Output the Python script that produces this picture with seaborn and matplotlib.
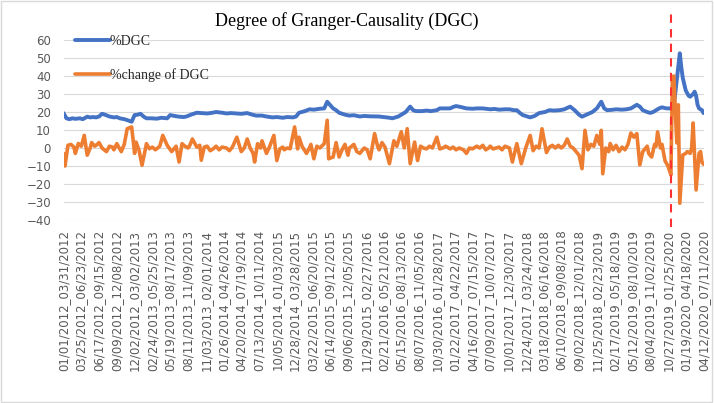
import numpy as np
import pandas as pd
import matplotlib
matplotlib.use("Agg")
import matplotlib.pyplot as plt
from matplotlib.patches import Rectangle
import seaborn as sns

# weekly rolling windows, index 0 = window starting 01/01/2012
dgc_weeks = [0, 1, 2, 4, 6, 8, 11, 13, 16, 18, 20, 22, 24, 26, 28, 31, 34, 36, 38, 41, 43, 46, 48, 50,
             52, 54, 56, 59, 63, 66, 70, 72, 75, 78, 81, 83, 86, 90, 93, 97, 100, 103, 107, 110, 113,
             117, 120, 124, 127, 130, 134, 137, 141, 144, 148, 151, 155, 157, 159, 163, 166, 169, 173,
             176, 178, 182, 184, 186, 190, 193, 196, 200, 203, 207, 213, 220, 222, 226, 229, 231, 234,
             236, 238, 242, 245, 248, 252, 254, 257, 261, 263, 265, 268, 272, 276, 279, 283, 288, 291,
             294, 298, 301, 304, 306, 308, 310, 313, 315, 318, 321, 325, 328, 331, 335, 338, 342, 345,
             348, 350, 353, 357, 360, 363, 365, 367, 370, 373, 377, 380, 383, 387, 389, 391, 394, 396,
             398, 400, 402, 404, 407, 410, 412, 414, 416, 417, 418, 420, 422, 423, 425, 426, 427, 428,
             429, 431, 432]
dgc_values = [19.4, 18, 16.5, 16, 16.5, 16.2, 16.5, 16, 17.4, 17, 17.2, 17, 17.5, 19, 18.5, 17.5, 17,
              17.2, 16.5, 16, 15.5, 14.6, 18.3, 18.5, 19, 17.5, 16.5, 16.5, 16.3, 16.8, 16.5, 18.3,
              17.8, 17.4, 17.2, 17.5, 18.5, 19.6, 19.4, 19.2, 19.5, 20, 19.6, 19.2, 19.4, 19.2, 19,
              19.4, 18.6, 18, 18, 17.5, 17, 17.2, 16.8, 17.2, 17, 17.5, 19.6, 20.5, 21.5, 21.3, 21.8,
              22, 25.7, 22, 21, 19.6, 18.5, 18, 18.2, 17.5, 17.8, 17.6, 17.5, 16.8, 16.5, 17.5, 19,
              20, 23, 21, 20.5, 20.5, 20.8, 20.5, 21, 22, 22, 22, 22.8, 23.3, 22.8, 22, 21.8, 22, 22,
              21.5, 21.7, 21.3, 21.5, 21.5, 21, 21, 19.5, 18.3, 17.5, 17, 17.8, 19.4, 20, 21, 20.8,
              21, 21.5, 23, 21, 18.5, 17.4, 18.5, 20, 22, 25.7, 22, 21, 21.2, 21.5, 21.3, 21.5, 22,
              24, 23, 21, 20, 19.5, 20, 21, 22, 22.6, 22, 22, 23.5, 38, 52.6, 45, 39, 32, 29, 28.5,
              30, 31.3, 29, 24, 22, 21, 19.4]

chg_weeks = [0, 1, 3, 5, 7, 8, 10, 12, 14, 16, 18, 19, 21, 22, 24, 26, 29, 31, 33, 34, 36, 39, 41, 43,
             46, 48, 49, 51, 53, 56, 58, 60, 62, 65, 67, 70, 73, 75, 76, 78, 80, 82, 84, 85, 87, 90,
             92, 93, 95, 97, 99, 101, 103, 105, 107, 110, 112, 114, 117, 120, 122, 124, 126, 128, 129,
             131, 133, 134, 137, 139, 142, 144, 146, 148, 149, 151, 153, 156, 158, 159, 161, 164, 166,
             167, 169, 171, 173, 176, 178, 179, 182, 184, 186, 188, 190, 192, 193, 196, 198, 200, 203,
             205, 207, 210, 212, 213, 215, 217, 220, 223, 225, 228, 230, 232, 234, 237, 239, 241, 243,
             245, 247, 249, 252, 254, 256, 258, 261, 263, 265, 267, 270, 272, 274, 276, 279, 281, 283,
             285, 287, 288, 290, 292, 294, 296, 298, 301, 303, 306, 309, 312, 315, 317, 319, 321, 323,
             326, 328, 330, 332, 334, 336, 338, 340, 342, 344, 346, 348, 350, 352, 354, 356, 358, 360,
             362, 363, 364, 366, 368, 369, 371, 373, 375, 377, 379, 381, 383, 385, 387, 388, 389, 391,
             394, 395, 397, 399, 400, 401, 403, 404, 406, 408, 410, 411, 412, 413, 414, 415, 416, 418,
             420, 421, 423, 424, 425, 427, 429, 430, 431, 432]
chg_values = [-3, -10, 1.5, 2, 0.5, -3, 2.5, 1, 7, -4, 0, 3, 1, 1.5, 3, 0, -2, 1, 0.5, -1, 2.4, -2, 2,
              10.7, 11.7, -3, 3.3, -1.3, -9.6, 2.4, -0.4, 0.5, -1, 1, 7, 1.5, -2, 0, 1, -7.8, 2.4, 1,
              0, 1, 5, 0.5, 1.5, -6.8, 0.5, 1, -1.5, -0.5, 1, -1, 0.5, 0, -1.5, 0.5, 6, -2, 0, 5, 0,
              -3, -7.8, 2.4, 0, 4, -3, 0.5, 7, -7, -0.5, 0.5, -1, 0, -0.4, 11.7, -0.5, 6, 1, -3, 0, 2,
              -6, 1, 0, 2.4, 15.4, -6, -5, 3, -5, -1, 2, -4, 0, 2, -2, -3, 0, -1, -6, 8, 1, -1, 3, 0.5,
              -8.7, 4, 1, 9, 0, 10.7, -8.7, 3.3, -7, 1, 0, -0.5, 1, 0, 6, -0.5, 0, 1, -0.5, 0.5, -1, 0,
              -1, -3, 0, -0.5, 1, 0, 1.5, -1, 0, 1, -0.5, 0, 0.5, -1, 1, 0, -7.8, 2.4, -8.7, 0, 7,
              -1.5, 1, 0, 10.7, -2.5, 0.5, 1.5, 0, 1.5, 0, 1.5, 5, 1, 0, -2, -4, -11.5, 9.8, -1, 2, 1,
              7, 2, 9.8, -14.3, 0, -2, 2.5, -1, 1.5, -2, 0.5, -1, 2, 8.3, 6, 8, -1, -9.4, -2, 1, -3,
              -5, 2, 1, 9, 0, 2, -7, -10, -15, 39.6, 40, 20, 2.8, 24, -30.7, -3.9, -3, -2, -3, 0, 13.9,
              -23.3, -3, -2, -8, -9]

tick_labels = [
    "01/01/2012_03/31/2012", "03/25/2012_06/23/2012", "06/17/2012_09/15/2012",
    "09/09/2012_12/08/2012", "12/02/2012_03/02/2013", "02/24/2013_05/25/2013",
    "05/19/2013_08/17/2013", "08/11/2013_11/09/2013", "11/03/2013_02/01/2014",
    "01/26/2014_04/26/2014", "04/20/2014_07/19/2014", "07/13/2014_10/11/2014",
    "10/05/2014_01/03/2015", "12/28/2014_03/28/2015", "03/22/2015_06/20/2015",
    "06/14/2015_09/12/2015", "09/06/2015_12/05/2015", "11/29/2015_02/27/2016",
    "02/21/2016_05/21/2016", "05/15/2016_08/13/2016", "08/07/2016_11/05/2016",
    "10/30/2016_01/28/2017", "01/22/2017_04/22/2017", "04/16/2017_07/15/2017",
    "07/09/2017_10/07/2017", "10/01/2017_12/30/2017", "12/24/2017_03/24/2018",
    "03/18/2018_06/16/2018", "06/10/2018_09/08/2018", "09/02/2018_12/01/2018",
    "11/25/2018_02/23/2019", "02/17/2019_05/18/2019", "05/12/2019_08/10/2019",
    "08/04/2019_11/02/2019", "10/27/2019_01/25/2020", "01/19/2020_04/18/2020",
    "04/12/2020_07/11/2020",
]
tick_weeks = list(range(0, 433, 12))
covid_week = 410

sns.set_theme(style="white")
plt.rcParams["font.family"] = ["DejaVu Sans"]

fig = plt.figure(figsize=(7.14, 4.03), dpi=100)
ax = fig.add_axes([63.5 / 714, 1 - 220 / 403, 640 / 714, 180 / 403])

dgc = pd.DataFrame({"week": dgc_weeks, "value": dgc_values})
chg = pd.DataFrame({"week": chg_weeks, "value": chg_values})
sns.lineplot(data=dgc, x="week", y="value", ax=ax, color="#4472C4", linewidth=2.8, label="%DGC")
sns.lineplot(data=chg, x="week", y="value", ax=ax, color="#ED7D31", linewidth=2.6, label="%change of DGC")

ax.plot([covid_week, covid_week], [-0.04, 1.155], transform=ax.get_xaxis_transform(),
        color="#FF3030", lw=1.5, ls=(0, (4, 3)), clip_on=False, zorder=5)

ax.set_ylim(-40, 60)
ax.set_xlim(0, 432)
ax.set_yticks(range(-40, 61, 10))
ax.set_xticks(tick_weeks)
ax.set_xticklabels(tick_labels, rotation=90)
ax.tick_params(axis="both", length=0, labelsize=8.5, labelcolor="#595959")
ax.tick_params(axis="y", pad=9)
ax.tick_params(axis="x", pad=7)
ax.yaxis.grid(True, color="#D9D9D9", lw=0.8)
ax.set_axisbelow(True)
for s in ax.spines.values():
    s.set_visible(False)
ax.set_xlabel("")
ax.set_ylabel("")

leg = ax.legend(loc="upper left", bbox_to_anchor=(0.018, 1.03), frameon=False, borderpad=0,
                borderaxespad=0, handlelength=2.5, handletextpad=0.0, labelspacing=1.45,
                prop={"family": "Liberation Serif", "size": 10})

fig.text(0.486, 1 - 21 / 403, "Degree of Granger-Causality (DGC)", ha="center", va="center",
         fontsize=13, family="Liberation Serif", color="black")
fig.add_artist(Rectangle((0.002, 0.003), 0.995, 0.994, transform=fig.transFigure,
                         fill=False, ec="#D9D9D9", lw=1))

fig.savefig("out.png", dpi=100)
